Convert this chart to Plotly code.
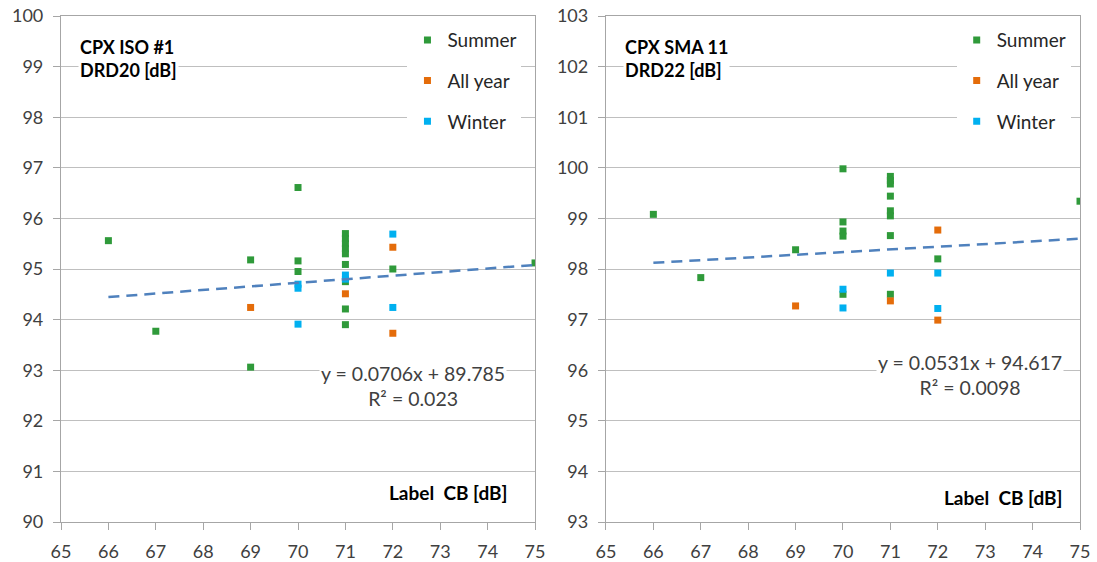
import plotly.graph_objects as go

# ---------------- data ----------------
# Left panel: CPX ISO #1, DRD20 [dB]
summer_x_l = [66, 67, 69, 69, 70, 70, 70, 71, 71, 71, 71, 71, 71, 71, 71, 71, 72, 75]
summer_y_l = [95.56, 93.77, 95.18, 93.06, 96.61, 95.16, 94.95, 95.70, 95.60, 95.50, 95.40,
              95.30, 95.09, 94.75, 94.21, 93.90, 95.00, 95.12]
allyear_x_l = [69, 71, 72, 72]
allyear_y_l = [94.24, 94.51, 95.43, 93.73]
winter_x_l = [70, 70, 70, 71, 71, 72, 72]
winter_y_l = [94.70, 94.62, 93.91, 94.88, 94.80, 95.69, 94.24]
trend_l = {"slope": 0.0706, "intercept": 89.785, "r2": "0.023"}

# Right panel: CPX SMA 11, DRD22 [dB]
summer_x_r = [66, 67, 69, 70, 70, 70, 70, 70, 71, 71, 71, 71, 71, 71, 71, 71, 72, 75]
summer_y_r = [99.08, 97.83, 98.38, 99.98, 98.93, 98.75, 98.65, 97.50, 99.83, 99.75, 99.68,
              99.44, 99.15, 99.05, 98.66, 97.50, 98.20, 99.34]
allyear_x_r = [69, 71, 72, 72]
allyear_y_r = [97.27, 97.37, 98.77, 96.99]
winter_x_r = [70, 70, 71, 72, 72]
winter_y_r = [97.60, 97.23, 97.92, 97.92, 97.22]
trend_r = {"slope": 0.0531, "intercept": 94.617, "r2": "0.0098"}

trend_x = [66, 75]
x_ticks = list(range(65, 76))
y_ticks_l = list(range(90, 101))
y_ticks_r = list(range(93, 104))
titles = ["CPX ISO #1<br>DRD20 [dB]", "CPX SMA 11<br>DRD22 [dB]"]
series_names = ["Summer", "All year", "Winter"]
colors = ["#2f9a3a", "#e46c0a", "#00b0f0"]

FONT = "Lato, 'Open Sans', sans-serif"
TXT = "#262626"

fig = go.Figure()

panels = [
    ("x", "y", "legend", [(summer_x_l, summer_y_l), (allyear_x_l, allyear_y_l), (winter_x_l, winter_y_l)], trend_l),
    ("x2", "y2", "legend2", [(summer_x_r, summer_y_r), (allyear_x_r, allyear_y_r), (winter_x_r, winter_y_r)], trend_r),
]

for xa, ya, leg, series, tr in panels:
    for i, (sx, sy) in enumerate(series):
        fig.add_trace(go.Scatter(
            x=sx, y=sy, mode="markers", name=series_names[i],
            marker=dict(symbol="square", size=7, color=colors[i]),
            xaxis=xa, yaxis=ya, legend=leg, legendgroup=f"{leg}_{i}",
        ))
    ty = [tr["slope"] * v + tr["intercept"] for v in trend_x]
    fig.add_trace(go.Scatter(
        x=trend_x, y=ty, mode="lines", showlegend=False,
        line=dict(color="#4f81bd", width=2.5, dash="11px,7px"),
        xaxis=xa, yaxis=ya,
    ))

axis_common = dict(
    showline=True, mirror=True, linecolor="#a6a6a6", linewidth=1.2,
    ticks="outside", ticklen=7, tickcolor="#a6a6a6", ticklabelstandoff=6,
    tickfont=dict(family=FONT, size=18, color="#404040"),
    zeroline=False, automargin=False,
)

fig.update_layout(
    width=1097, height=562,
    margin=dict(l=61, r=17, t=16, b=40),
    paper_bgcolor="white", plot_bgcolor="white",
    font=dict(family=FONT, color=TXT),
    xaxis=dict(domain=[0, 0.4652], range=[65, 75], tickvals=x_ticks, showgrid=False, **axis_common),
    yaxis=dict(range=[90, 100], tickvals=y_ticks_l, showgrid=True, gridcolor="#bfbfbf", gridwidth=1, **axis_common),
    xaxis2=dict(domain=[0.5348, 1], range=[65, 75], tickvals=x_ticks, showgrid=False, anchor="y2", **axis_common),
    yaxis2=dict(range=[93, 103], tickvals=y_ticks_r, showgrid=True, gridcolor="#bfbfbf", gridwidth=1, anchor="x2", **axis_common),
    legend=dict(x=0.34, xanchor="left", y=0.99, yanchor="top", bgcolor="white",
                font=dict(family=FONT, size=19, color=TXT), tracegroupgap=13, itemwidth=30),
    legend2=dict(x=0.879, xanchor="left", y=0.99, yanchor="top", bgcolor="white",
                 font=dict(family=FONT, size=19, color=TXT), tracegroupgap=13, itemwidth=30),
    showlegend=True,
)

ann = []
eq_pos = [(0.743, 0.268), (0.768, 0.29)]
lbl_pos = [(0.945, 0.059), (0.966, 0.049)]
for j, (xr, yr, tr, ttl) in enumerate([("x", "y", trend_l, titles[0]), ("x2", "y2", trend_r, titles[1])]):
    xd = "x domain" if xr == "x" else "x2 domain"
    yd = "y domain" if yr == "y" else "y2 domain"
    ann.append(dict(xref=xd, yref=yd, x=0.036, y=0.965, xanchor="left", yanchor="top",
                    text=f"<b>{ttl}</b>", showarrow=False, align="left", bgcolor="white",
                    font=dict(family=FONT, size=18, color="#000000")))
    ann.append(dict(xref=xd, yref=yd, x=lbl_pos[j][0], y=lbl_pos[j][1], xanchor="right", yanchor="middle",
                    text="<b>Label&nbsp;&nbsp;CB [dB]</b>", showarrow=False, bgcolor="white",
                    font=dict(family=FONT, size=19, color="#000000")))
    ann.append(dict(xref=xd, yref=yd, x=eq_pos[j][0], y=eq_pos[j][1], xanchor="center", yanchor="middle",
                    text=f"y = {tr['slope']}x + {tr['intercept']}<br>R² = {tr['r2']}",
                    showarrow=False, align="center", bgcolor="white",
                    font=dict(family=FONT, size=19.5, color="#404040")))
fig.update_layout(annotations=ann)

fig.write_html("out.html", config={"displayModeBar": False},
               post_script="document.body.style.margin='0px';")
